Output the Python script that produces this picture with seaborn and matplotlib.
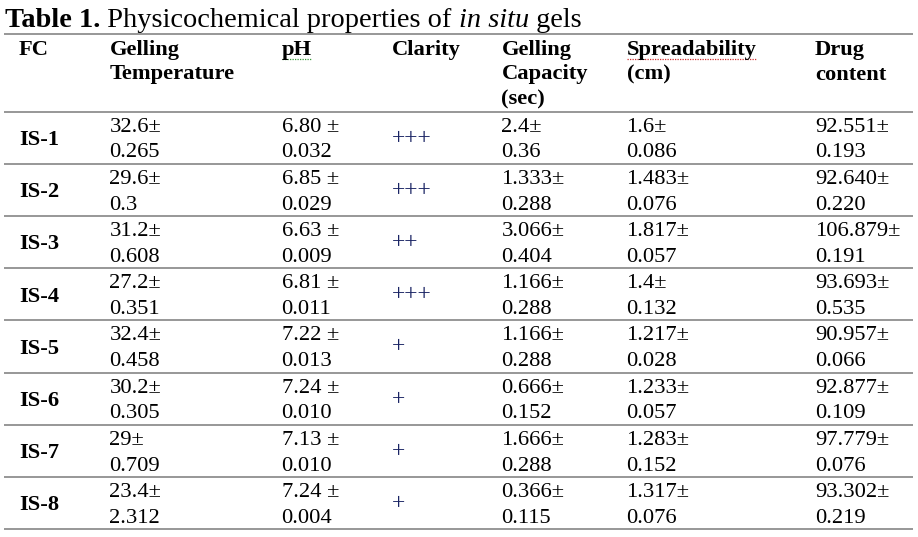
import numpy as np
import pandas as pd
import matplotlib
matplotlib.use('Agg')
import matplotlib.pyplot as plt
import seaborn as sns

# table values (kept as strings so the printed digits stay as in the source)
fc = ['IS-1', 'IS-2', 'IS-3', 'IS-4', 'IS-5', 'IS-6', 'IS-7', 'IS-8']
gel_temp_mean = ['32.6', '29.6', '31.2', '27.2', '32.4', '30.2', '29', '23.4']
gel_temp_sd = ['0.265', '0.3', '0.608', '0.351', '0.458', '0.305', '0.709', '2.312']
ph_mean = ['6.80', '6.85', '6.63', '6.81', '7.22', '7.24', '7.13', '7.24']
ph_sd = ['0.032', '0.029', '0.009', '0.011', '0.013', '0.010', '0.010', '0.004']
clarity = ['+++', '+++', '++', '+++', '+', '+', '+', '+']
cap_mean = ['2.4', '1.333', '3.066', '1.166', '1.166', '0.666', '1.666', '0.366']
cap_sd = ['0.36', '0.288', '0.404', '0.288', '0.288', '0.152', '0.288', '0.115']
spread_mean = ['1.6', '1.483', '1.817', '1.4', '1.217', '1.233', '1.283', '1.317']
spread_sd = ['0.086', '0.076', '0.057', '0.132', '0.028', '0.057', '0.152', '0.076']
drug_mean = ['92.551', '92.640', '106.879', '93.693', '90.957', '92.877', '97.779', '93.302']
drug_sd = ['0.193', '0.220', '0.191', '0.535', '0.066', '0.109', '0.076', '0.219']

headers = ['FC', 'Gelling\nTemperature', 'pH', 'Clarity', 'Gelling\nCapacity\n(sec)',
           'Spreadability\n(cm)', 'Drug\ncontent']

sns.set_theme(style='white')
plt.rcParams['font.family'] = ['Liberation Serif', 'DejaVu Serif']

data = pd.DataFrame({
    'FC': fc,
    'Gelling Temperature': [m + '±\n' + s for m, s in zip(gel_temp_mean, gel_temp_sd)],
    'pH': [m + ' ±\n' + s for m, s in zip(ph_mean, ph_sd)],
    'Clarity': clarity,
    'Gelling Capacity': [m + '±\n' + s for m, s in zip(cap_mean, cap_sd)],
    'Spreadability': [m + '±\n' + s for m, s in zip(spread_mean, spread_sd)],
    'Drug content': [m + '±\n' + s for m, s in zip(drug_mean, drug_sd)],
})

W, H = 918, 537
col_x = [19, 109.5, 281.5, 391.5, 501.5, 626.5, 815]
title_line = 33.5
head_bottom = 111.5
row_h = 52.2
fs = 16.2
line_gap = 25.6

fig = plt.figure(figsize=(W / 100, H / 100), dpi=100)
ax = fig.add_axes([0, 0, 1, 1])
ax.set_xlim(0, W)
ax.set_ylim(H, 0)
ax.axis('off')

# rules
rule_y = [title_line, head_bottom] + [head_bottom + (i + 1) * row_h for i in range(len(fc))]
ax.hlines(rule_y, 4, 913, color='#7a7a7a', lw=1.1)

# title, assembled from styled pieces
fig.canvas.draw()
rend = fig.canvas.get_renderer()
pieces = [('Table 1.', 'bold', 'normal'), (' Physicochemical properties of ', 'normal', 'normal'),
          ('in situ', 'normal', 'italic'), (' gels', 'normal', 'normal')]
x = 5
for txt, wgt, sty in pieces:
    t = ax.text(x, 27, txt, fontsize=20.4, fontweight=wgt, fontstyle=sty,
                va='baseline', ha='left', color='black')
    bb = t.get_window_extent(renderer=rend)
    x += bb.width

# header
for cx, h in zip(col_x, headers):
    for k, part in enumerate(h.split('\n')):
        t = ax.text(cx, 55 + k * 24.5, part, fontsize=fs, fontweight='bold',
                    va='baseline', ha='left', color='black')
        if k == 0 and part in ('pH', 'Spreadability'):
            bb = t.get_window_extent(renderer=rend)
            col = '#3a9a3a' if part == 'pH' else '#d03030'
            ax.plot([bb.x0, bb.x1], [58.5, 58.5], color=col, lw=0.9, ls=(0, (1, 1)))

# body
cols = list(data.columns)
for i in range(len(data)):
    top = head_bottom + i * row_h
    mid = top + row_h / 2
    ax.text(col_x[0], mid + 7.3, data.loc[i, 'FC'], fontsize=fs, fontweight='bold',
            va='baseline', ha='left', color='black')
    for j, c in enumerate(cols[1:], start=1):
        val = data.loc[i, c]
        if c == 'Clarity':
            ax.text(col_x[j], mid + 0.5, val, fontsize=17,
                    va='center', ha='left', color='#1a2464')
            continue
        l1, l2 = val.split('\n')
        ax.text(col_x[j], top + 20.2, l1, fontsize=fs, va='baseline', ha='left', color='black')
        ax.text(col_x[j], top + 20.2 + line_gap, l2, fontsize=fs, va='baseline', ha='left',
                color='black')

fig.savefig('out.png', dpi=100)
